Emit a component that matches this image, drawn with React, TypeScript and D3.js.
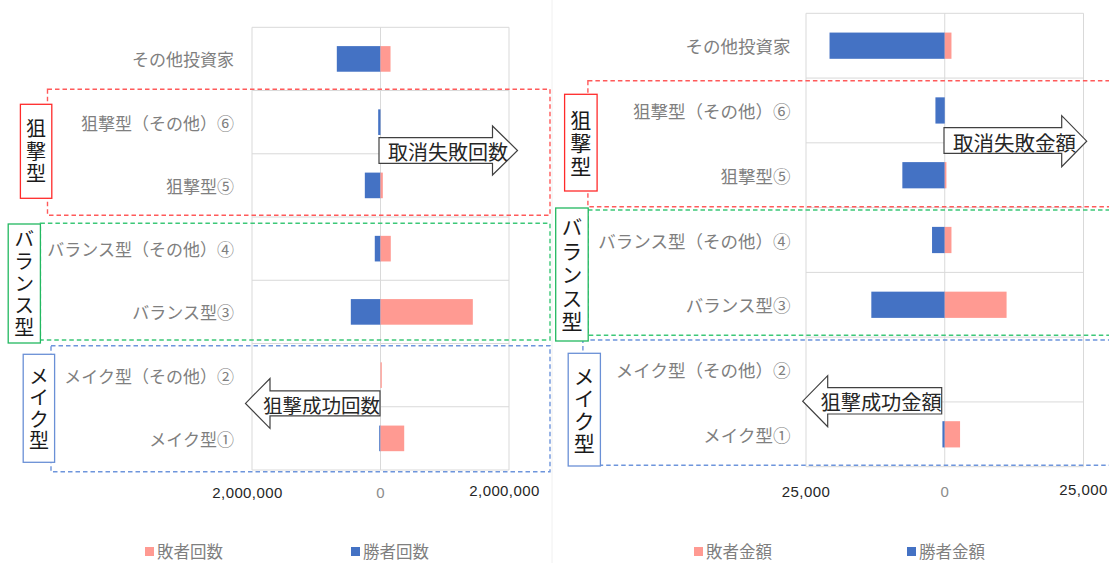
import React from "react";
import * as d3 from "d3";

const categories = [
  "その他投資家",
  "狙撃型（その他）⑥",
  "狙撃型⑤",
  "バランス型（その他）④",
  "バランス型③",
  "メイク型（その他）②",
  "メイク型①",
];
const countWinners = [680000, 36000, 244000, 89000, 462000, 0, 20000];
const countLosers = [156000, 0, 36000, 160000, 1437000, 20000, 369000];
const amountWinners = [20760, 1680, 7640, 2290, 13230, 0, 420];
const amountLosers = [1210, 0, 300, 1210, 11140, 0, 2760];
const countTicks = [-2000000, 0, 2000000];
const amountTicks = [-25000, 0, 25000];
const countLegend = ["敗者回数", "勝者回数"];
const amountLegend = ["敗者金額", "勝者金額"];

const BLUE = "#4472c4";
const PINK = "#ff9a92";
const GRID = "#d9d9d9";
const FONT = "'Noto Sans CJK JP', 'Noto Sans', sans-serif";
const NUMFONT = "'Liberation Sans', Arial, sans-serif";

type Box = { x: number; y: number; w: number; h: number };

function VerticalLabel({ box, text, color, fs, gap }: { box: Box; text: string; color: string; fs: number; gap: number }) {
  const cx = box.x + box.w / 2;
  const cy = box.y + box.h / 2;
  const ls = gap - fs;
  return (
    <g>
      <rect x={box.x} y={box.y} width={box.w} height={box.h} fill="#fff" stroke={color} strokeWidth={1.3} />
      <text
        x={cx}
        y={cy + ls / 2}
        textAnchor="middle"
        fontSize={fs}
        fontFamily={FONT}
        fill="#1a1a1a"
        letterSpacing={ls}
        style={{ writingMode: "vertical-rl" as any }}
      >
        {text}
      </text>
    </g>
  );
}

function Arrow({ dir, x0, x1, by0, by1, hx, hy0, hy1, text, fs }: any) {
  const cy = (hy0 + hy1) / 2;
  let d: string;
  if (dir === "right") {
    d = `M${x0},${by0}L${hx},${by0}L${hx},${hy0}L${x1},${cy}L${hx},${hy1}L${hx},${by1}L${x0},${by1}Z`;
  } else {
    d = `M${x1},${by0}L${hx},${by0}L${hx},${hy0}L${x0},${cy}L${hx},${hy1}L${hx},${by1}L${x1},${by1}Z`;
  }
  const ty = (by0 + by1) / 2 + 1;
  return (
    <g>
      <path d={d} fill="#fff" stroke="#404040" strokeWidth={1.2} />
      {dir === "right" ? (
        <text x={x0 + 9} y={ty} dominantBaseline="central" fontSize={fs} fontFamily={FONT} fill="#262626">{text}</text>
      ) : (
        <text x={x1} y={ty} textAnchor="end" dominantBaseline="central" fontSize={fs} fontFamily={FONT} fill="#262626">{text}</text>
      )}
    </g>
  );
}

function Chart({ cfg, winners, losers, ticks, legend }: any) {
  const { plot, max, labelX, labelFs, tickY, tickDx, tickYRight } = cfg;
  const x = d3.scaleLinear().domain([-max, max]).range([plot.x0, plot.x1]);
  const y = d3.scaleBand<string>().domain(categories).range([plot.y0, plot.y1]).paddingInner(0.595).paddingOuter(0.2975);
  const step = y.step();
  const fmt = d3.format(",");
  const bounds = d3.range(categories.length + 1).map((i) => plot.y0 + i * step);
  return (
    <g>
      {bounds.map((b, i) => (
        <line key={"h" + i} x1={plot.x0} x2={plot.x1} y1={b} y2={b} stroke={GRID} strokeWidth={1} />
      ))}
      {ticks.map((t: number, i: number) => (
        <line key={"v" + i} x1={x(t)} x2={x(t)} y1={plot.y0} y2={plot.y1} stroke={GRID} strokeWidth={1} />
      ))}
      {categories.map((c, i) => (
        <g key={c}>
          {winners[i] > 0 && (
            <rect x={x(-winners[i])} y={y(c)} width={x(0) - x(-winners[i])} height={y.bandwidth()} fill={BLUE} />
          )}
          {losers[i] > 0 && (
            <rect x={x(0)} y={y(c)} width={x(losers[i]) - x(0)} height={y.bandwidth()} fill={PINK} />
          )}
          <text x={labelX} y={(y(c) as number) + y.bandwidth() / 2} textAnchor="end" dominantBaseline="central" fontSize={labelFs} fontFamily={FONT} fill="#7f7f7f">
            {c}
          </text>
        </g>
      ))}
      {ticks.map((t: number, i: number) => (
        <text
          key={"t" + i}
          x={x(t) + (t === 0 ? 0 : tickDx)}
          y={t > 0 ? tickYRight : tickY}
          textAnchor="middle"
          dominantBaseline="central"
          fontSize={15}
          letterSpacing={t === 0 ? 0 : 0.4}
          fontFamily={NUMFONT}
          fill={t === 0 ? "#8c8c8c" : "#262626"}
        >
          {fmt(Math.abs(t))}
        </text>
      ))}
      {legend.map((l: any, i: number) => (
        <g key={"l" + i}>
          <rect x={l.x} y={547} width={9} height={9} fill={i === 0 ? PINK : BLUE} />
          <text x={l.x + 12} y={550.5} dominantBaseline="central" fontSize={16.5} fontFamily={FONT} fill="#7f7f7f">
            {l.text}
          </text>
        </g>
      ))}
    </g>
  );
}

export default function App() {
  const leftCfg = { plot: { x0: 252, x1: 509, y0: 27.3, y1: 470 }, max: 2000000, labelX: 234, labelFs: 17, tickY: 492.5, tickYRight: 490, tickDx: -4.5 };
  const rightCfg = { plot: { x0: 806, x1: 1083.5, y0: 13.3, y1: 466.7 }, max: 25000, labelX: 790.5, labelFs: 17.5, tickY: 491, tickYRight: 489.5, tickDx: 0 };
  const leftLegend = [
    { x: 145, text: countLegend[0] },
    { x: 351, text: countLegend[1] },
  ];
  const rightLegend = [
    { x: 694, text: amountLegend[0] },
    { x: 907, text: amountLegend[1] },
  ];
  const dash = "4.5 3";
  return (
    <svg width={1109} height={563} style={{ position: "absolute", left: 0, top: 0, background: "#fff" }}>
      <rect x={0} y={0} width={1109} height={563} fill="#fff" />
      <line x1={552} x2={552} y1={0} y2={563} stroke="#f0f0f0" />
      <Chart cfg={leftCfg} winners={countWinners} losers={countLosers} ticks={countTicks} legend={leftLegend} />
      <Chart cfg={rightCfg} winners={amountWinners} losers={amountLosers} ticks={amountTicks} legend={rightLegend} />

      {/* left chart group frames */}
      <rect x={47.5} y={89.3} width={502.5} height={126} fill="none" stroke="#ff5a5a" strokeWidth={1.4} strokeDasharray={dash} />
      <rect x={40.4} y={223.3} width={509.6} height={116.7} fill="none" stroke="#3cc878" strokeWidth={1.4} strokeDasharray={dash} />
      <rect x={51} y={345.7} width={499} height={126} fill="none" stroke="#6e95dc" strokeWidth={1.4} strokeDasharray={dash} />
      <VerticalLabel box={{ x: 20.4, y: 104.3, w: 31.4, h: 94 }} text="狙撃型" color="#ff2a2a" fs={20} gap={22.5} />
      <VerticalLabel box={{ x: 8.2, y: 224, w: 32.2, h: 119 }} text="バランス型" color="#22b860" fs={20} gap={21.8} />
      <VerticalLabel box={{ x: 23.2, y: 354.3, w: 31.4, h: 108 }} text="メイク型" color="#6a90d6" fs={20} gap={21.5} />
      <Arrow dir="right" x0={379} x1={517.5} by0={137.7} by1={163.3} hx={492.5} hy0={126} hy1={175} text="取消失敗回数" fs={20} />
      <Arrow dir="left" x0={245.5} x1={380} by0={390.8} by1={415.8} hx={270} hy0={378.5} hy1={428.3} text="狙撃成功回数" fs={19.5} />

      {/* right chart group frames */}
      <rect x={587.9} y={80.7} width={540} height={126} fill="none" stroke="#ff5a5a" strokeWidth={1.4} strokeDasharray={dash} />
      <rect x={588} y={210} width={540} height={125.3} fill="none" stroke="#3cc878" strokeWidth={1.4} strokeDasharray={dash} />
      <rect x={582.9} y={340} width={540} height={125.3} fill="none" stroke="#6e95dc" strokeWidth={1.4} strokeDasharray={dash} />
      <VerticalLabel box={{ x: 564.6, y: 94.3, w: 32.5, h: 96.7 }} text="狙撃型" color="#ff2a2a" fs={21} gap={23} />
      <VerticalLabel box={{ x: 555.7, y: 208, w: 32.5, h: 133 }} text="バランス型" color="#22b860" fs={21} gap={23.5} />
      <VerticalLabel box={{ x: 568.2, y: 353.3, w: 32.2, h: 112.7 }} text="メイク型" color="#6a90d6" fs={21} gap={22.5} />
      <Arrow dir="right" x0={944} x1={1086.7} by0={127.7} by1={153.3} hx={1061.7} hy0={115.7} hy1={166.7} text="取消失敗金額" fs={20.5} />
      <Arrow dir="left" x0={802.7} x1={941.7} by0={387.7} by1={414} hx={827.7} hy0={375.7} hy1={426.7} text="狙撃成功金額" fs={20.2} />
    </svg>
  );
}
